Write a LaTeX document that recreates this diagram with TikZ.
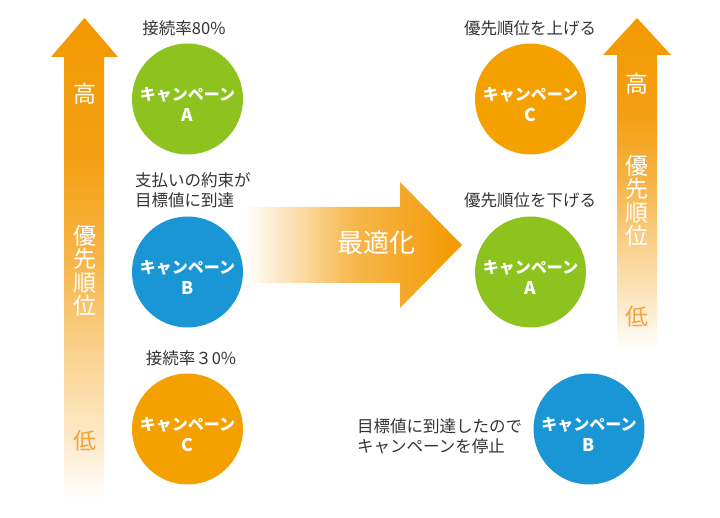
\documentclass[tikz,border=0pt]{standalone}
\usepackage{fontspec}
\setmainfont{Noto Sans CJK JP}
\definecolor{arrowor}{HTML}{F39800}
\definecolor{cor}{HTML}{F4A100}
\definecolor{cgr}{HTML}{8DC21F}
\definecolor{cbl}{HTML}{1B96D5}
\definecolor{lowor}{HTML}{F2A33A}
\definecolor{txt}{HTML}{333333}
\colorlet{orA}{arrowor!20}
\colorlet{orB}{arrowor!50}
\colorlet{orC}{arrowor!72}
\colorlet{orD}{arrowor!92}
\colorlet{orM}{arrowor!70}
\pgfdeclareverticalshading{barfade}{100bp}{color(0bp)=(white); color(25bp)=(white); color(31bp)=(orA); color(42.5bp)=(orB); color(50bp)=(orC); color(60bp)=(orD); color(75bp)=(arrowor); color(100bp)=(arrowor)}
\newcommand{\cletter}[1]{{\fontsize{17.5}{21}\selectfont #1}}
\begin{document}
\begin{tikzpicture}[x=1pt,y=-1pt,
  circ/.style={circle, minimum size=111pt, inner sep=0pt, draw=none},
  ctext/.style={text=white, font=\bfseries\fontsize{16}{21}\selectfont, align=center, inner sep=0pt},
  lbl/.style={text=txt, font=\fontsize{16.5}{20}\selectfont, inner sep=0pt},
  bartext/.style={text=white, font=\fontsize{23}{23.5}\selectfont, align=center, inner sep=0pt}]
\useasboundingbox (0,0) rectangle (720,518);
% left priority arrow
\shade[shading=barfade] (84.5,18) -- (118,57) -- (104,57) -- (104,500) -- (64,500) -- (64,57) -- (51,57) -- cycle;
\node[bartext] (lhigh) at (84.5,94) {高};
\node[bartext] (lprio) at (84.5,271) {優\\先\\順\\位};
\node[bartext, text=lowor] (llow) at (84.5,441) {低};
% right priority arrow
\shade[shading=barfade] (637,18) -- (671,55) -- (657,55) -- (657,348) -- (617,348) -- (617,55) -- (603,55) -- cycle;
\node[bartext] (rhigh) at (637,84) {高};
\node[bartext] (rprio) at (637,201) {優\\先\\順\\位};
\node[bartext, text=lowor] (rlow) at (637,317) {低};
% middle arrow
\shade[left color=white, right color=arrowor, middle color=orM] (245,207) -- (400,207) -- (400,182) -- (462,245) -- (400,308) -- (400,283) -- (245,283) -- cycle;
\node[text=white, font=\fontsize{26}{30}\selectfont, inner sep=0pt] (opt) at (376,243) {最適化};
% left circles
\node[circ, fill=cgr] (cA) at (187.5,99) {};
\node[ctext] (tA) at (187.5,104.5) {キャンペーン\\\cletter{A}};
\node[circ, fill=cbl] (cB) at (187.5,272) {};
\node[ctext] (tB) at (187.5,277.5) {キャンペーン\\\cletter{B}};
\node[circ, fill=cor] (cC) at (187.5,429) {};
\node[ctext] (tC) at (187.5,434.5) {キャンペーン\\\cletter{C}};
% right circles
\node[circ, fill=cor] (dC) at (530.5,99) {};
\node[ctext] (uC) at (530.5,104.5) {キャンペーン\\\cletter{C}};
\node[circ, fill=cgr] (dA) at (530.5,272) {};
\node[ctext] (uA) at (530.5,277.5) {キャンペーン\\\cletter{A}};
\node[circ, fill=cbl] (dB) at (589,429) {};
\node[ctext] (uB) at (589,434.5) {キャンペーン\\\cletter{B}};
% labels
\node[lbl] (lA) at (184,28) {接続率80\%};
\node[lbl, align=left, anchor=west] (lB) at (135,190) {支払いの約束が\\目標値に到達};
\node[lbl] (lC) at (191,358) {接続率３0\%};
\node[lbl] (rC) at (530,28) {優先順位を上げる};
\node[lbl] (rA) at (530,200) {優先順位を下げる};
\node[lbl, align=left, anchor=west] (rB) at (357,436) {目標値に到達したので\\キャンペーンを停止};
\end{tikzpicture}
\end{document}
